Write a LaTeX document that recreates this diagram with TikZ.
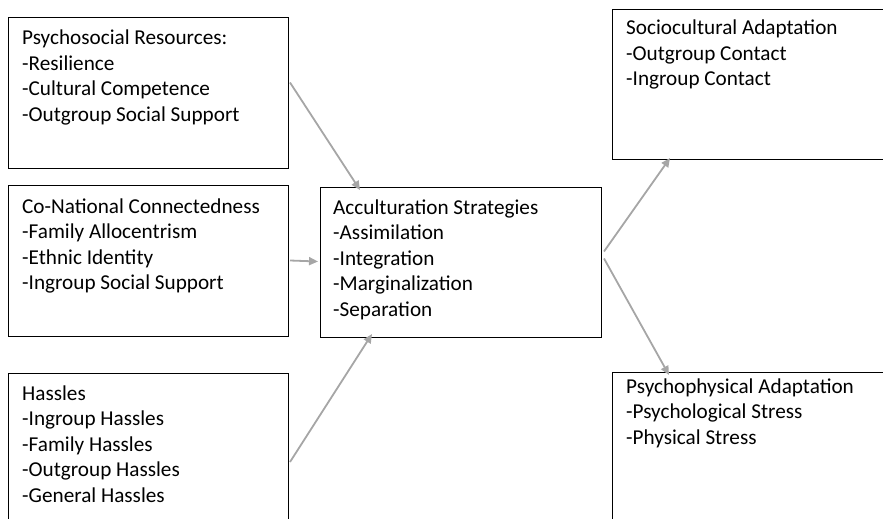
\documentclass[tikz,border=0pt]{standalone}
\usepackage{fontspec}
\setmainfont{Carlito}
\usetikzlibrary{arrows.meta}
\newcommand{\boxlines}[1]{\begin{tabular}[t]{@{}l@{}}#1\end{tabular}}
\tikzset{
  x=1pt, y=-1pt,
  frame/.style={draw=black, line width=1pt, rectangle, inner sep=0pt, anchor=north west},
  label text/.style={anchor=base west, inner sep=0pt, font=\fontsize{21.2}{25.5}\selectfont},
  conn/.style={draw={rgb,255:red,166;green,166;blue,166}, line width=1.8pt,
    -{Triangle[length=9pt,width=8pt]}},
}
\begin{document}
\begin{tikzpicture}
\useasboundingbox (0,0) rectangle (883,519);
\clip (0,0) rectangle (883,519);
% boxes
\node[frame, minimum width=280pt, minimum height=151pt] (b1) at (8,17) {};
\node[frame, minimum width=280pt, minimum height=151pt] (b2) at (8,185) {};
\node[frame, minimum width=280pt, minimum height=160pt] (b3) at (8,373) {};
\node[frame, minimum width=281pt, minimum height=150pt] (mid) at (320,187) {};
\node[frame, minimum width=290pt, minimum height=150pt] (tr) at (612,9) {};
\node[frame, minimum width=290pt, minimum height=160pt] (br) at (612,372) {};
% texts
\node[label text] (t1) at ([xshift=14pt,yshift=-28pt]b1.north west)
  {\boxlines{Psychosocial Resources:\\-Resilience\\-Cultural Competence\\-Outgroup Social Support}};
\node[label text] (t2) at ([xshift=14pt,yshift=-28pt]b2.north west)
  {\boxlines{Co-National Connectedness\\-Family Allocentrism\\-Ethnic Identity\\-Ingroup Social Support}};
\node[label text] (t3) at ([xshift=14pt,yshift=-27pt]b3.north west)
  {\boxlines{Hassles\\-Ingroup Hassles\\-Family Hassles\\-Outgroup Hassles\\-General Hassles}};
\node[label text] (tm) at ([xshift=13pt,yshift=-27pt]mid.north west)
  {\boxlines{Acculturation Strategies\\-Assimilation\\-Integration\\-Marginalization\\-Separation}};
\node[label text] (ttr) at ([xshift=14pt,yshift=-26pt]tr.north west)
  {\boxlines{Sociocultural Adaptation\\-Outgroup Contact\\-Ingroup Contact}};
\node[label text] (tbr) at ([xshift=14pt,yshift=-21pt]br.north west)
  {\boxlines{Psychophysical Adaptation\\-Psychological Stress\\-Physical Stress}};
% connectors
\draw[conn] ([xshift=1pt,yshift=10.5pt]b1.east) -- ([xshift=40pt,yshift=-3pt]mid.north west);
\draw[conn] ([xshift=1pt,yshift=0.5pt]b2.east) -- ([xshift=-2pt,yshift=1pt]mid.west);
\draw[conn] ([xshift=1pt,yshift=-89pt]b3.north east) -- ([xshift=52pt,yshift=4pt]mid.south west);
\draw[conn] ([xshift=2pt,yshift=11pt]mid.east) -- ([xshift=58pt,yshift=2pt]tr.south west);
\draw[conn] ([xshift=2pt,yshift=4pt]mid.east) -- ([xshift=57pt,yshift=-3pt]br.north west);
\end{tikzpicture}
\end{document}
